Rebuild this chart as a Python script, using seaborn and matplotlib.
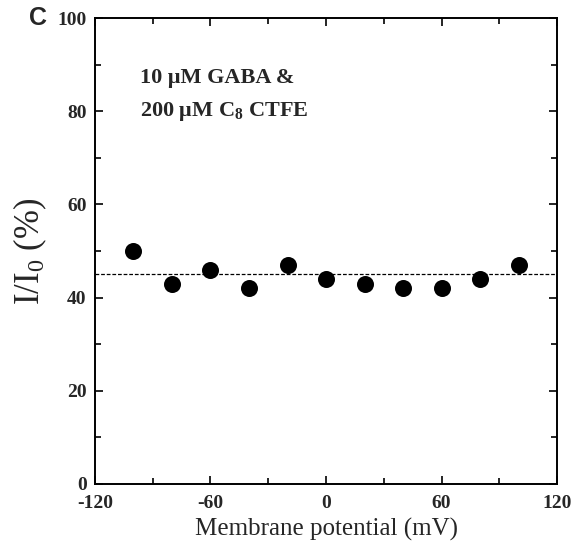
import matplotlib
matplotlib.use("Agg")
import matplotlib.pyplot as plt
import seaborn as sns
import pandas as pd
from matplotlib.ticker import MultipleLocator

# membrane potential (mV) and relative current I/I0 (%)
potential = [-100, -80, -60, -40, -20, 0, 20, 40, 60, 80, 100]
rel_current = [50, 43, 46, 42, 47, 44, 43, 42, 42, 44, 47]
mean_level = 45
x_range = [-120, 120]

df = pd.DataFrame({"potential": potential, "rel_current": rel_current})

sns.set_style("ticks")
plt.rcParams['font.family'] = ['Liberation Serif', 'DejaVu Serif']
plt.rcParams['axes.unicode_minus'] = False
plt.rcParams['mathtext.fontset'] = 'custom'
plt.rcParams['mathtext.rm'] = 'Liberation Serif'
plt.rcParams['mathtext.it'] = 'Liberation Serif:italic'
plt.rcParams['mathtext.bf'] = 'Liberation Serif:bold'

fig = plt.figure(figsize=(5.75, 5.48), dpi=100)
ax = fig.add_axes([0.165, 0.117, 0.804, 0.850])

ax.plot(x_range, [mean_level, mean_level], color='black', lw=0.9,
        linestyle=(0, (3, 1.5)), zorder=1)
sns.scatterplot(data=df, x="potential", y="rel_current", ax=ax, s=150,
                color='black', edgecolor='black', linewidth=0, zorder=3)

ax.set_xlim(-120, 120)
ax.set_ylim(0, 100)
ax.xaxis.set_major_locator(MultipleLocator(60))
ax.xaxis.set_minor_locator(MultipleLocator(30))
ax.yaxis.set_major_locator(MultipleLocator(20))
ax.yaxis.set_minor_locator(MultipleLocator(10))
ax.tick_params(which='both', direction='in', top=True, right=True,
               labelsize=14, width=1.2, color='black')
ax.tick_params(which='major', length=6)
ax.tick_params(which='minor', length=4)
ax.tick_params(axis='x', which='major', pad=8)
ax.tick_params(axis='y', which='major', pad=6)
for lbl in ax.get_xticklabels() + ax.get_yticklabels():
    lbl.set_fontweight('bold')
for sp in ax.spines.values():
    sp.set_linewidth(1.4)
    sp.set_color('black')

ax.set_xlabel("Membrane potential (mV)", fontsize=18, labelpad=4)
ax.set_ylabel(r"I/I$_\mathrm{0}$ (%)", fontsize=25, labelpad=6)

ax.text(0.097, 0.86, "10 \u03bcM GABA &", transform=ax.transAxes,
        fontsize=16, fontweight='bold')
ax.text(0.097, 0.79, r"200 $\mathbf{\mu}$M C$_\mathbf{8}$ CTFE", transform=ax.transAxes,
        fontsize=16, fontweight='bold')

fig.text(0.05, 0.955, "C", fontsize=18, fontweight='bold',
         family=['Liberation Sans', 'DejaVu Sans'])

fig.savefig("out.png", dpi=100)
